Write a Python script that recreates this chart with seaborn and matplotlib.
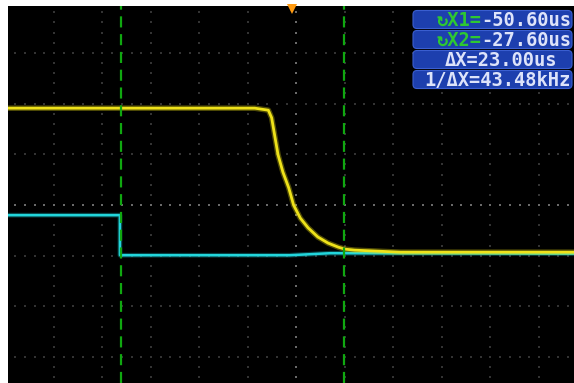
import numpy as np
import pandas as pd
import matplotlib
matplotlib.use("Agg")
import matplotlib.pyplot as plt
import matplotlib.transforms as mtransforms
from matplotlib.patches import FancyBboxPatch
import seaborn as sns

# ---- acquisition: time in microseconds, amplitude in screen divisions ----
ch1_time = [-62.2, -36.8, -35.4, -35.06, -34.7, -34.4, -33.9, -33.3, -32.8,
            -32.1, -31.3, -30.3, -29.25, -28.2, -27.5, -26.5, -21.8, -3.9]
ch1_level = [1.91, 1.91, 1.87, 1.72, 1.32, 0.99, 0.65, 0.34, 0.0,
             -0.26, -0.45, -0.63, -0.75, -0.83, -0.87, -0.89, -0.93, -0.93]

ch2_time = [-62.2, -50.7, -50.7, -33.2, -29.0, -3.9]
ch2_level = [-0.20, -0.20, -0.99, -0.99, -0.95, -0.96]

# ---- cursors and timebase ----
cursor_x1 = -50.60
cursor_x2 = -27.60
time_per_div = 5.0
screen_center = -32.5
trigger_pos = -33.0

W, H, DPI = 574, 383, 100

sns.set_theme(style="dark")
fig = plt.figure(figsize=(W / DPI, H / DPI), dpi=DPI, facecolor="white")
ax = fig.add_axes([8 / W, 0, (W - 8) / W, (H - 6) / H])
ax.set_facecolor("black")
for s in ax.spines.values():
    s.set_visible(False)

x_left = screen_center - 5.948 * time_per_div
x_right = screen_center + 5.722 * time_per_div
ax.set_xlim(x_left, x_right)
ax.set_ylim(-3.51, 3.925)
ax.set_xticks([])
ax.set_yticks([])

# ---- graticule: dotted lines every division, dots every 0.2 div ----
fine_y = np.arange(-4, 4.001, 0.2)
fine_x = screen_center + np.arange(-6, 6.001, 0.2) * time_per_div
dot_dim, dot_centre = "#333333", "#6a6a6a"
for k in range(-6, 7):
    xv = screen_center + k * time_per_div
    centre = k == 0
    ax.scatter(np.full_like(fine_y, xv), fine_y, marker="s",
               s=4.0 if centre else 1.5, color=dot_centre if centre else dot_dim,
               linewidths=0, zorder=1)
for j in range(-4, 5):
    centre = j == 0
    ax.scatter(fine_x, np.full_like(fine_x, float(j)), marker="s",
               s=4.0 if centre else 1.5, color=dot_centre if centre else dot_dim,
               linewidths=0, zorder=1)

# ---- traces ----
ch1 = pd.DataFrame({"t": ch1_time, "v": ch1_level})
ch2 = pd.DataFrame({"t": ch2_time, "v": ch2_level})

sns.lineplot(data=ch2, x="t", y="v", ax=ax, sort=False, estimator=None,
             color="#19d0d6", linewidth=3.4, alpha=0.3, zorder=3)
sns.lineplot(data=ch2, x="t", y="v", ax=ax, sort=False, estimator=None,
             color="#22d6dc", linewidth=1.8, zorder=4)
sns.lineplot(data=ch1, x="t", y="v", ax=ax, sort=False, estimator=None,
             color="#e8dc10", linewidth=4.0, alpha=0.35, zorder=5)
sns.lineplot(data=ch1, x="t", y="v", ax=ax, sort=False, estimator=None,
             color="#eee21a", linewidth=2.0, zorder=6)
ax.set_xlabel("")
ax.set_ylabel("")

# ---- cursors ----
for cx in (cursor_x1, cursor_x2):
    ax.axvline(cx, color="#10a810", linewidth=1.6, linestyle=(0, (5, 3)), zorder=7)

# ---- trigger position marker ----
ax.plot([trigger_pos], [3.87], marker="v", markersize=7, color="#ff9a10",
        markeredgewidth=0, clip_on=False, zorder=8)

# ---- cursor readout ----
dx = cursor_x2 - cursor_x1
freq_khz = 1e3 / dx
rows = [
    ("\u21bbX1=", f"{cursor_x1:.2f}us"),
    ("\u21bbX2=", f"{cursor_x2:.2f}us"),
    ("", f"\u0394X={dx:.2f}us"),
    ("", f"1/\u0394X={freq_khz:.2f}kHz"),
]
ident = mtransforms.IdentityTransform()
mono = ["DejaVu Sans Mono", "DejaVu Sans"]
txt_kw = dict(transform=ident, va="baseline", color="#dde3fa",
              fontsize=13.5, family=mono, fontweight="bold", zorder=11)
box_left, box_right = 413, 572
row_tops = [10.5, 30.5, 50.5, 70.5]
row_h = 18.0
white_texts = []
for (lead, body), top in zip(rows, row_tops):
    y0 = H - (top + row_h)
    box = FancyBboxPatch((box_left, y0), box_right - box_left, row_h,
                         boxstyle="round,pad=0,rounding_size=4",
                         facecolor="#1d3fae", edgecolor="#3a5ed0",
                         linewidth=0.8, transform=ident, zorder=10)
    fig.add_artist(box)
    base = y0 + 2.8
    if lead:
        t = fig.text(box_right - 1, base, body, ha="right", **txt_kw)
        white_texts.append((t, lead, base))
    elif body.startswith("\u0394"):
        fig.text(501, base, body, ha="center", **txt_kw)
    else:
        fig.text(box_right - 1, base, body, ha="right", **txt_kw)

fig.canvas.draw()
renderer = fig.canvas.get_renderer()
for t, lead, base in white_texts:
    bb = t.get_window_extent(renderer)
    kw = dict(txt_kw, color="#2ec832")
    fig.text(bb.x0, base, lead, ha="right", **kw)

fig.savefig("out.png", dpi=DPI, facecolor="white")
